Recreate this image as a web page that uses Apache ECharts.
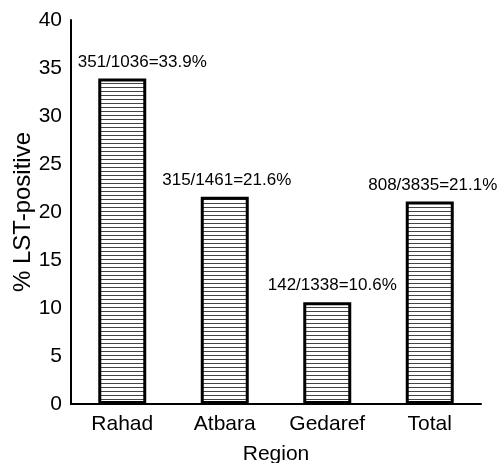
<!DOCTYPE html>
<html>
<head>
<meta charset="utf-8">
<script src="https://cdn.jsdelivr.net/npm/echarts@6/dist/echarts.min.js"></script>
<style>
html, body { margin: 0; padding: 0; background: #fff; }
#main { width: 499px; height: 463px; }
</style>
</head>
<body>
<div id="main"></div>
<script>
var regions = ['Rahad', 'Atbara', 'Gedaref', 'Total'];
var positives = [351, 315, 142, 808];
var tested = [1036, 1461, 1338, 3835];
var percents = [33.9, 21.6, 10.6, 21.1];
var yTicks = [0, 5, 10, 15, 20, 25, 30, 35, 40];

// the source labels are not quite centred over their bars
var labelShift = [20, 2, 5, 3];

// horizontal line hatching for the bars
var hatch = document.createElement('canvas');
hatch.width = 4;
hatch.height = 4;
var hctx = hatch.getContext('2d');
hctx.fillStyle = '#fff';
hctx.fillRect(0, 0, 4, 4);
hctx.fillStyle = '#444';
hctx.fillRect(0, 3, 4, 1);

var chart = echarts.init(document.getElementById('main'));

var barData = percents.map(function (v, i) {
    return {
        value: v,
        label: { offset: [labelShift[i], 0] }
    };
});

option = {
    animation: false,
    backgroundColor: '#fff',
    textStyle: {
        fontFamily: 'Liberation Sans'
    },
    grid: {
        left: 71,
        top: 20,
        bottom: 59,
        width: 410,
        containLabel: false,
        outerBoundsMode: 'none'
    },
    xAxis: {
        type: 'category',
        data: regions,
        name: 'Region',
        nameLocation: 'middle',
        nameGap: 40,
        nameTextStyle: {
            color: '#000',
            fontSize: 21
        },
        axisLine: {
            lineStyle: {
                color: '#000',
                width: 2
            }
        },
        axisTick: {
            show: false
        },
        axisLabel: {
            color: '#000',
            fontSize: 21,
            margin: 10
        }
    },
    yAxis: {
        type: 'value',
        min: yTicks[0],
        max: yTicks[yTicks.length - 1],
        interval: 5,
        name: '% LST-positive',
        nameLocation: 'middle',
        nameGap: 36,
        nameMoveOverlap: false,
        nameTextStyle: {
            color: '#000',
            fontSize: 24
        },
        splitLine: {
            show: false
        },
        axisLine: {
            show: true,
            lineStyle: {
                color: '#000',
                width: 2
            }
        },
        axisTick: {
            show: false
        },
        axisLabel: {
            color: '#000',
            fontSize: 21,
            margin: 9
        }
    },
    series: [
        {
            type: 'bar',
            barWidth: 48,
            data: barData,
            itemStyle: {
                color: { image: hatch, repeat: 'repeat' },
                borderColor: '#000',
                borderWidth: 3
            },
            label: {
                show: true,
                position: 'top',
                distance: 8,
                color: '#000',
                fontSize: 17,
                formatter: function (p) {
                    var i = p.dataIndex;
                    return positives[i] + '/' + tested[i] + '=' + percents[i] + '%';
                }
            }
        }
    ]
};

chart.setOption(option);
</script>
</body>
</html>
